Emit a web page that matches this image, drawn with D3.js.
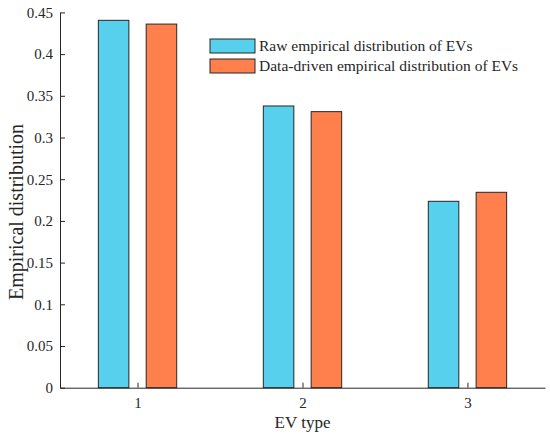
<!DOCTYPE html>
<html>
<head>
<meta charset="utf-8">
<script src="https://cdn.jsdelivr.net/npm/d3@7"></script>
<style>
  body { margin: 0; background: #fff; }
  svg text { font-family: "Liberation Serif", "Times New Roman", serif; fill: #262626; }
</style>
</head>
<body>
<div id="chart"></div>
<script>
var evTypes = [1, 2, 3];
var seriesNames = ['Raw empirical distribution of EVs', 'Data-driven empirical distribution of EVs'];
var rawValues = [0.4405, 0.3378, 0.2235];
var drivenValues = [0.436, 0.331, 0.2343];
var yTicks = [0, 0.05, 0.1, 0.15, 0.2, 0.25, 0.3, 0.35, 0.4, 0.45];
var colors = ['#56D0EC', '#FF804C'];

var width = 550, height = 438;
// note: "top" is taken by window.top, so use plot* names
var plotLeft = 60, plotRight = 545, plotTop = 12.4, plotBottom = 387.7;

var svg = d3.select('#chart').append('svg')
	.attr('width', width)
	.attr('height', height);

var x = d3.scaleLinear().domain([0.53, 3.47]).range([plotLeft, plotRight]);
var y = d3.scaleLinear().domain([0, 0.45]).range([plotBottom, plotTop]);

var barWidth = 0.185, offset = 0.145;
var series = [rawValues, drivenValues];

series.forEach(function(vals, s){
	svg.append('g').selectAll('rect')
		.data(vals).enter()
		.append('rect')
		.attr('x', function(d, i){ return x(evTypes[i] + (s ? offset : -offset) - barWidth/2); })
		.attr('width', function(){ return x(barWidth) - x(0); })
		.attr('y', function(d){ return y(d); })
		.attr('height', function(d){ return y(0) - y(d); })
		.attr('fill', colors[s])
		.attr('stroke', '#262626')
		.attr('stroke-width', 1);
});

// axes, ticks pointing inwards
var yAxis = svg.append('g')
	.attr('transform', 'translate(' + plotLeft + ',0)')
	.call(d3.axisLeft(y).tickValues(yTicks).tickSizeInner(-5).tickSizeOuter(0).tickPadding(7)
		.tickFormat(function(d){ return String(+d.toFixed(2)); }));
var xAxis = svg.append('g')
	.attr('transform', 'translate(0,' + plotBottom + ')')
	.call(d3.axisBottom(x).tickValues(evTypes).tickSizeInner(-5).tickSizeOuter(0).tickPadding(10)
		.tickFormat(d3.format('d')));

[yAxis, xAxis].forEach(function(g){
	g.selectAll('path, line').attr('stroke', '#262626').attr('stroke-width', 1);
	g.selectAll('text').attr('font-size', 15).attr('fill', '#262626')
		.attr('font-family', '"Liberation Serif", serif');
});

svg.append('text')
	.attr('x', x(2))
	.attr('y', 428)
	.attr('text-anchor', 'middle')
	.attr('font-size', 17)
	.text('EV type');

svg.append('text')
	.attr('transform', 'translate(23,212) rotate(-90)')
	.attr('text-anchor', 'middle')
	.attr('font-size', 20)
	.text('Empirical distribution');

// legend
var legend = svg.append('g').selectAll('g')
	.data(seriesNames).enter()
	.append('g')
	.attr('transform', function(d, i){ return 'translate(210,' + (39 + i*20) + ')'; });
legend.append('rect')
	.attr('width', 45)
	.attr('height', 14)
	.attr('fill', function(d, i){ return colors[i]; })
	.attr('stroke', '#262626')
	.attr('stroke-width', 1);
legend.append('text')
	.attr('x', 49)
	.attr('y', 12)
	.attr('font-size', 15.5)
	.text(function(d){ return d; });
</script>
</body>
</html>
